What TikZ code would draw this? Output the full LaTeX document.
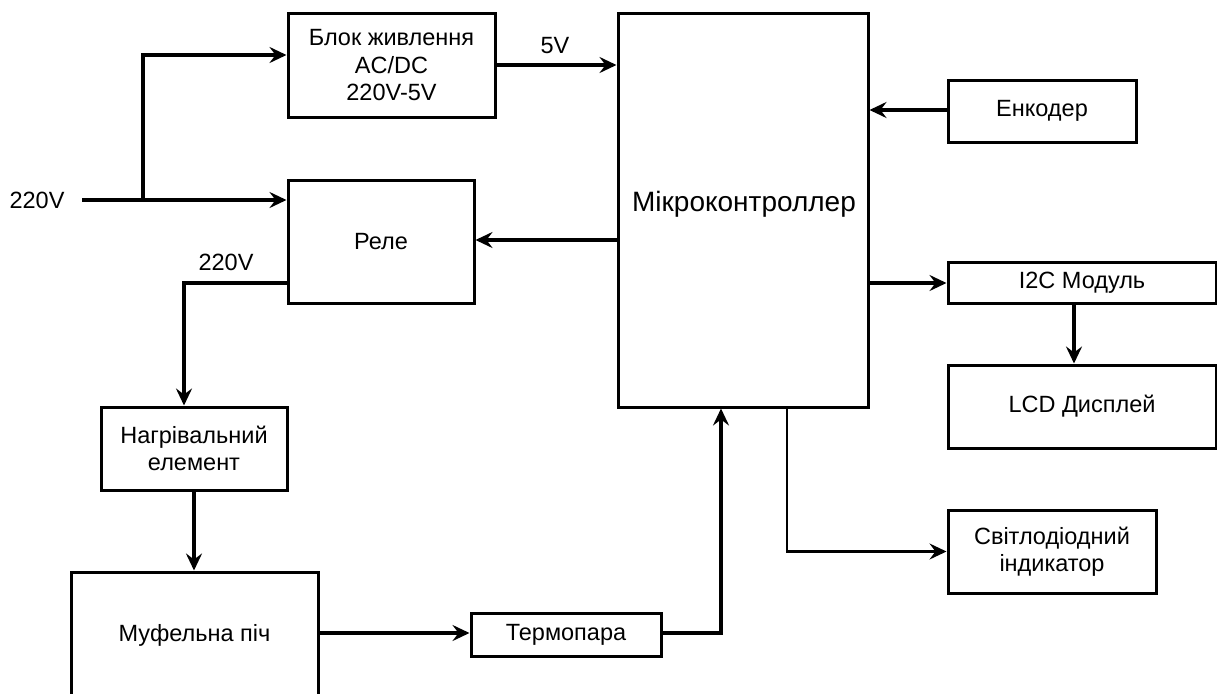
\documentclass[tikz,border=0pt]{standalone}
\usepackage{fontspec}
\setmainfont{Liberation Sans}
\usetikzlibrary{arrows.meta,calc}
\begin{document}
\begin{tikzpicture}[x=1pt,y=-1pt,
  blk/.style={draw,line width=3pt,inner sep=0pt,align=center,font=\fontsize{23.5}{27.5}\selectfont},
  con/.style={line width=3.2pt,-{Stealth[length=17pt,width=16pt,inset=6pt]}},
  thin con/.style={line width=2.2pt,-{Stealth[length=17pt,width=16pt,inset=6pt]}},
  lbl/.style={font=\fontsize{23.5}{27}\selectfont,inner sep=0pt}]
\clip (0,0) rectangle (1217,693);
\fill[white] (0,0) rectangle (1217,693);
% nodes
\node[blk,minimum width=207pt,minimum height=103pt] (psu) at (391.5,65.5) {Блок живлення\\AC/DC\\220V-5V};
\node[blk,minimum width=186pt,minimum height=123pt] (relay) at (381,241.5) {Реле};
\node[blk,minimum width=250pt,minimum height=393pt] (mcu) at (743,210.5) {};
\node[lbl,font=\fontsize{28}{32}\selectfont] (mcut) at (744,204) {Мікроконтроллер};
\node[blk,minimum width=188pt,minimum height=62pt] (enc) at (1042,111) {Енкодер};
\node[blk,minimum width=268pt,minimum height=41pt] (i2c) at (1082,282.5) {I2C Модуль};
\node[blk,minimum width=268pt,minimum height=83pt] (lcd) at (1082,406.5) {LCD Дисплей};
\node[blk,minimum width=208pt,minimum height=83pt] (led) at (1052,551.5) {Світлодіодний\\індикатор};
\node[blk,minimum width=186pt,minimum height=83pt] (heat) at (194,448.5) {Нагрівальний\\елемент};
\node[blk,minimum width=247pt,minimum height=126pt] (muf) at (194.5,635) {Муфельна піч};
\node[blk,minimum width=190pt,minimum height=43pt] (tc) at (566,634.5) {Термопара};
% labels
\node[lbl] (l220) at (37,200) {220V};
\node[lbl] (l5) at (555,46) {5V};
\node[lbl] (l220b) at (226,262) {220V};
\coordinate (in) at (82,200);
\coordinate (br) at (143,200);
% connectors
\draw[con] (in) -- (in -| relay.west);
\draw[con] (br) |- (psu.west |- 0,55);
\draw[con] (psu.east |- 0,65) -- (mcu.west |- 0,65);
\draw[con] (mcu.west |- 0,240) -- (relay.east |- 0,240);
\draw[con] (relay.west |- 0,283) -| (heat.north -| 184,0);
\draw[con] (heat.south) -- (heat.south |- muf.north);
\draw[con] (muf.east |- 0,633) -- (tc.west |- 0,633);
\draw[con] (tc.east |- 0,633) -| (mcu.south -| 721,0);
\draw[con] (enc.west |- 0,110) -- (mcu.east |- 0,110);
\draw[con] (mcu.east |- 0,283) -- (i2c.west |- 0,283);
\draw[con] (i2c.south -| 1074,0) -- (lcd.north -| 1074,0);
\draw[thin con] (mcu.south -| 787,0) |- (led.west);
\end{tikzpicture}
\end{document}
